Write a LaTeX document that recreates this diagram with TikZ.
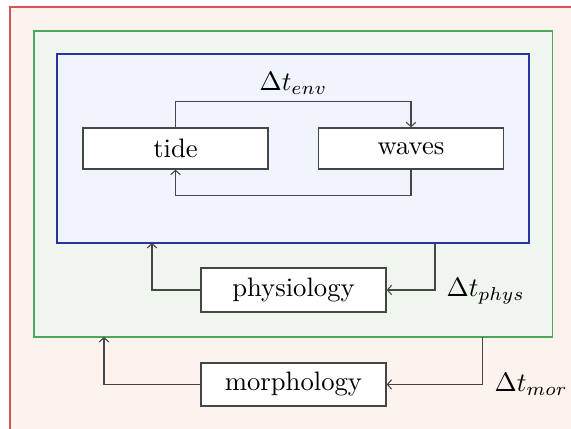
\documentclass[tikz,border=0pt]{standalone}
\usetikzlibrary{arrows.meta}
\definecolor{redline}{RGB}{214,84,84}
\definecolor{redfill}{RGB}{253,243,238}
\definecolor{greenline}{RGB}{76,166,92}
\definecolor{greenfill}{RGB}{239,246,238}
\definecolor{blueline}{RGB}{40,50,160}
\definecolor{bluefill}{RGB}{239,244,253}
\definecolor{boxline}{RGB}{70,70,70}
\begin{document}
\begin{tikzpicture}[x=0.375pt,y=-0.375pt,
  procbox/.style={draw=boxline,line width=0.5pt,fill=white,minimum width=69.4pt,inner sep=0pt,font=\fontsize{10}{12}\selectfont},
  conn/.style={draw=boxline,line width=0.4pt,-{Straight Barb[length=1.6pt,width=3.6pt]}},
  lab/.style={inner sep=0pt,font=\fontsize{10}{12}\selectfont}]
\useasboundingbox (0,0) rectangle (571,429);
% containers
\draw[draw=redline,fill=redfill,line width=0.55pt] (10,7) rectangle (590,445);
\draw[draw=greenline,fill=greenfill,line width=0.55pt] (34,31) rectangle (552.5,337);
\draw[draw=blueline,fill=bluefill,line width=0.5pt] (57,54) rectangle (529,243);
% nodes
\node[procbox,minimum height=15.4pt] (tide) at (175.5,148.5) {tide};
\node[procbox,minimum height=15.4pt] (waves) at (411,148.5) {waves};
\node[procbox,minimum height=16.4pt] (phys) at (293.5,290) {physiology};
\node[procbox,minimum height=16.1pt] (morph) at (293.5,384.5) {morphology};
% labels
\node[lab,anchor=base] (lenv) at (293.5,91) {$\Delta t_{env}$};
\node[lab,anchor=base west] (lphys) at (446,297) {$\Delta t_{phys}$};
\node[lab,anchor=base west] (lmor) at (494,391.5) {$\Delta t_{mor}$};
% coordinates on container edges
\coordinate (envtop) at (175.5,101.7);
\coordinate (envbot) at (411,195.7);
\coordinate (blueout) at (435,243);
\coordinate (bluein) at (152,243);
\coordinate (greenout) at (482.3,337);
\coordinate (greenin) at (104,337);
% connectors
\draw[conn] (tide.north) -- (envtop) -| (waves.north);
\draw[conn] (waves.south) -- (envbot) -| (tide.south);
\draw[conn] (blueout) |- (phys.east);
\draw[conn] (phys.west) -| (bluein);
\draw[conn] (greenout) |- (morph.east);
\draw[conn] (morph.west) -| (greenin);
\end{tikzpicture}
\end{document}
